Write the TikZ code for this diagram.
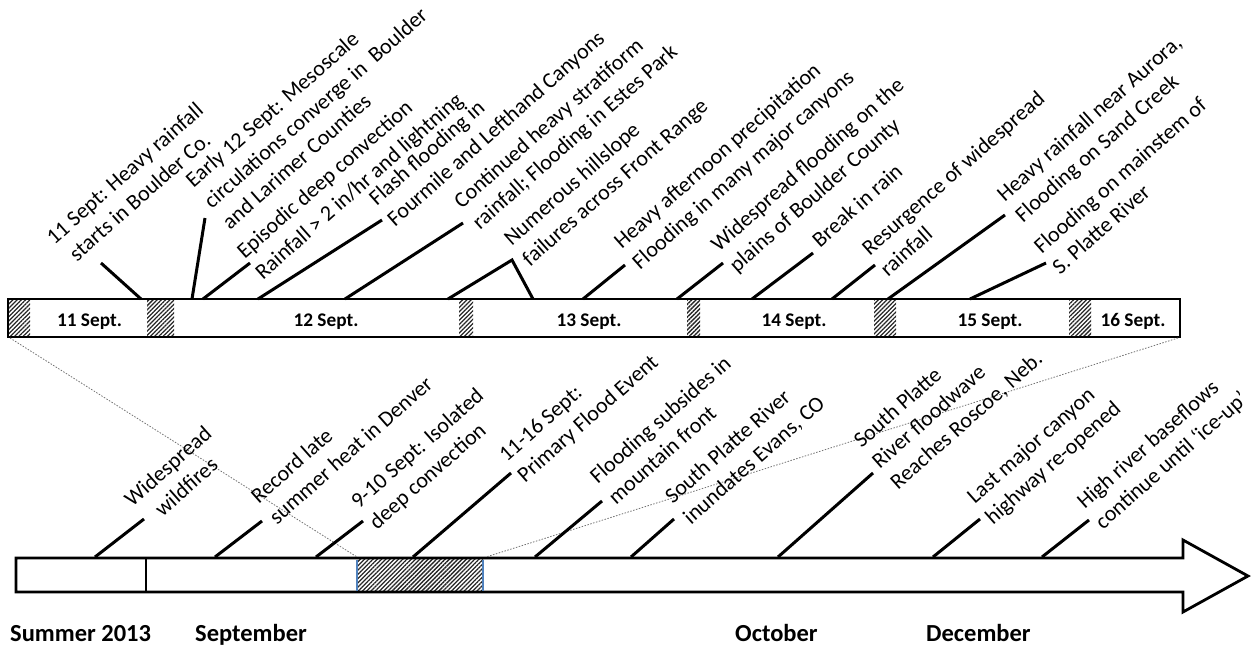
\documentclass[tikz,border=0pt]{standalone}
\usepackage{fontspec}
\setmainfont{Carlito}
\usetikzlibrary{calc,patterns.meta}
\definecolor{edgeblue}{RGB}{79,129,189}
\newcommand\lab[4]{\node[lab] (#1) at ($(#2,#3)+(5.5,6.2)$) {#4\strut};}
\newcommand\conn[5]{\coordinate (#1a) at (#2,#3); \coordinate (#1b) at (#4,#5); \draw[conn] (#1a) -- (#1b);}
\begin{document}
\begin{tikzpicture}[x=1pt,y=-1pt,
  lab/.style={rotate=41.5, anchor=south west, inner sep=0pt, outer sep=0pt, align=left, font=\fontsize{22}{27.5}\selectfont},
  conn/.style={line width=3pt},
  barline/.style={line width=2.8pt, line join=miter},
  hatch/.style={pattern={Lines[angle=45,distance=3pt,line width=1.3pt]}, pattern color=black!85},
  day/.style={font=\fontsize{19.3}{23}\selectfont\bfseries, anchor=base, inner sep=0pt},
  month/.style={font=\fontsize{24.5}{29}\selectfont\bfseries, anchor=base west, inner sep=0pt},
  zoomline/.style={black!55, line width=0.8pt, dash pattern=on 1.5pt off 1.5pt}]
\useasboundingbox (0,0) rectangle (1256,648);

% ---------- top bar (11-16 Sept.) ----------
\foreach \a/\b in {8/30,147/174,459/473,687/700,874/896,1069/1091}
  \fill[hatch] (\a,299) rectangle (\b,337);
\draw[barline] (8,299) rectangle (1180,337);
\coordinate (tl) at (10,338);
\coordinate (tr) at (1178,338);

\node[day] (d11) at (89.5,326) {11 Sept.};
\node[day] (d12) at (326,326) {12 Sept.};
\node[day] (d13) at (589,326) {13 Sept.};
\node[day] (d14) at (794,326) {14 Sept.};
\node[day] (d15) at (990,326) {15 Sept.};
\node[day] (d16) at (1133,326) {16 Sept.};

% ---------- bottom arrow ----------
\fill[hatch] (357,558) rectangle (483,592);
\draw[barline] (16,558) -- (1183,558) -- (1183,540) -- (1248,576) -- (1183,612) -- (1183,592) -- (16,592) -- cycle;
\draw[barline] (146,558) -- (146,592);
\draw[edgeblue, line width=2pt] (357,559.5) -- (357,590.5) (483,559.5) -- (483,590.5);
\coordinate (bl) at (357,557);
\coordinate (br) at (486,557);

\draw[zoomline] (tl) -- (bl);
\draw[zoomline] (tr) -- (br);

% ---------- top connectors ----------
\conn{t1c}{141}{299}{101}{263}
\conn{t2c}{192}{299}{205}{218}
\conn{t3c}{203}{299}{250}{263}
\conn{t4c}{258}{299}{382}{220}
\conn{t5c}{345}{299}{463}{223}
\coordinate (t6a) at (448,299); \coordinate (t6b) at (512,260); \coordinate (t6d) at (533,299);
\draw[conn, line join=miter] (t6a) -- (t6b) -- (t6d);
\conn{t7c}{583}{299}{625}{265}
\conn{t8c}{677}{299}{723}{263}
\conn{t9c}{752}{299}{813}{253}
\conn{t10c}{832}{299}{875}{265}
\conn{t11c}{888}{299}{1005}{215}
\conn{t12c}{970}{299}{1046}{263}

% ---------- bottom connectors ----------
\conn{b1c}{95}{557}{144}{519}
\conn{b2c}{215}{557}{262}{521}
\conn{b3c}{316}{557}{363}{521}
\conn{b4c}{413}{557}{511}{473}
\conn{b5c}{535}{557}{602}{501}
\conn{b6c}{631}{557}{674}{519}
\conn{b7c}{778}{557}{873}{473}
\conn{b8c}{933}{557}{980}{519}
\conn{b9c}{1042}{557}{1089}{520}

% ---------- top labels ----------
\lab{t1}{72.5}{266}{11 Sept: Heavy rainfall\\\hspace*{6pt}starts in Boulder Co.}
\lab{t2}{230}{230}{Early 12 Sept: Mesoscale\\circulations converge in\ \ Boulder\\and Larimer Counties}
\lab{t3}{263}{280}{Episodic deep convection\\Rainfall > 2 in/hr and lightning}
\lab{t4}{395}{227}{Flash flooding in\\Fourmile and Lefthand Canyons}
\lab{t5}{480}{230}{Continued heavy stratiform\\rainfall; Flooding in Estes Park}
\lab{t6}{530}{267}{Numerous hillslope\\failures across Front Range}
\lab{t7}{640}{270}{Heavy afternoon precipitation\\Flooding in many major canyons}
\lab{t8}{737}{273}{Widespread flooding on the\\plains of Boulder County}
\lab{t9}{820}{248}{Break in rain}
\lab{t10}{888}{277}{Resurgence of widespread\\rainfall}
\lab{t11}{1023}{223}{Heavy rainfall near Aurora,\\Flooding on Sand Creek}
\lab{t12}{1060}{275}{Flooding on mainstem of\\S. Platte River}

% ---------- bottom labels ----------
\lab{b1}{150.5}{528}{Widespread\\\hspace*{16pt}wildfires}
\lab{b2}{277}{525}{Record late\\summer heat in Denver}
\lab{b3}{377}{530}{9-10 Sept: Isolated\\deep convection}
\lab{b4}{525}{483}{11-16 Sept:\\Primary Flood Event}
\lab{b5}{616}{505}{Flooding subsides in\\mountain front}
\lab{b6}{691}{525}{South Platte River\\inundates Evans, CO}
\lab{b7}{898}{490}{South Platte\\River floodwave\\Reaches Roscoe, Neb.}
\lab{b8}{993}{525}{Last major canyon\\highway re-opened}
\lab{b9}{1103}{530}{High river baseflows\\continue until ‘ice-up’}

% ---------- months ----------
\node[month] (m1) at (10,641) {Summer 2013};
\node[month] (m2) at (195,641) {September};
\node[month] (m3) at (735,641) {October};
\node[month] (m4) at (926,641) {December};
\end{tikzpicture}
\end{document}
